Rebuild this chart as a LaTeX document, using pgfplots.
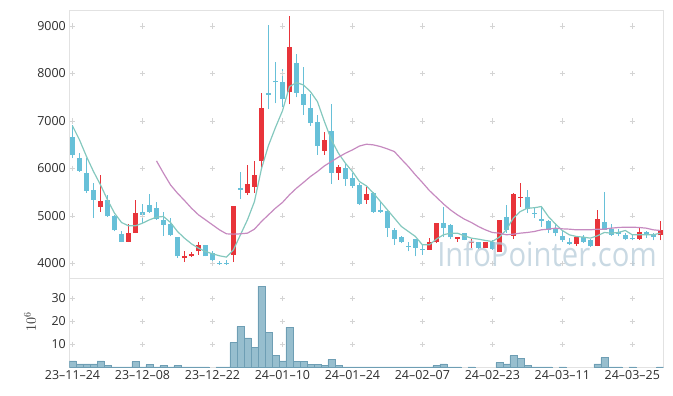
\documentclass[border=0pt]{standalone}
\usepackage{pgfplots}
\pgfplotsset{compat=1.18}
\usepackage{pgfplotstable}
\usepackage{fontspec}
\setmainfont{Open Sans}
\definecolor{cred}{RGB}{232,52,58}
\definecolor{cblue}{RGB}{103,192,216}
\definecolor{maA}{RGB}{132,200,190}
\definecolor{maB}{RGB}{198,138,192}
\definecolor{volfill}{RGB}{151,190,206}
\definecolor{voledge}{RGB}{110,158,180}
\definecolor{framec}{RGB}{226,226,226}
\definecolor{gridc}{RGB}{212,212,212}
\definecolor{tickc}{RGB}{45,45,45}
\definecolor{wm}{RGB}{180,202,216}

\pgfplotstableread{
i o h l c
4 5196 5863 5091 5316
8 4459 4831 4445 4635
9 4635 5337 4635 5070
16 4101 4249 4024 4144
17 4158 4235 4130 4200
18 4249 4438 4179 4389
23 4179 5210 4024 5210
25 5491 6073 5442 5674
26 5617 6165 5491 5863
27 6165 7582 6003 7281
31 7617 9211 7351 8558
36 6375 6761 6284 6600
38 5898 6073 5758 6038
42 5337 5617 5252 5463
51 4284 4530 4284 4445
52 4438 4845 4424 4845
55 4509 4551 4459 4551
57 4424 4509 4319 4459
59 4319 4445 4319 4445
61 4235 4916 4235 4916
63 4579 5491 4509 5463
64 5372 5702 5196 5407
72 4410 4551 4368 4551
75 4368 5126 4354 4930
81 4509 4761 4495 4656
84 4586 4895 4481 4705
}\upT

\pgfplotstableread{
i o h l c
0 6670 6916 6214 6284
1 6214 6319 5933 5954
2 5898 6214 5491 5533
3 5547 5688 4951 5337
5 5337 5442 4980 4986
6 5000 5021 4670 4691
7 4621 4670 4445 4459
10 5091 5253 4845 5021
11 5231 5456 5056 5091
12 5161 5281 4916 4930
13 4916 5077 4579 4810
14 4831 4951 4565 4586
15 4544 4544 4108 4144
19 4389 4389 4144 4144
20 4214 4249 4038 4059
21 4003 4038 3968 3982
22 4003 4073 3968 3990
24 5582 5933 5351 5547
28 7582 9021 7246 7547
29 7842 8249 7372 7814
30 7821 8088 7302 7463
32 8228 8410 7498 7596
33 7568 8144 7126 7337
34 7281 7561 6895 6965
35 6986 7126 6284 6481
37 6789 7351 5667 5898
39 6010 6109 5631 5772
40 5793 5912 5582 5638
41 5652 5688 5231 5245
43 5477 5512 5070 5091
44 5112 5281 5056 5091
45 5105 5126 4551 4754
46 4691 4740 4389 4509
47 4551 4565 4424 4438
48 4368 4445 4249 4340
49 4509 4509 4144 4319
50 4300 4389 4179 4280
53 4845 5196 4551 4740
54 4803 4824 4509 4544
56 4635 4635 4481 4495
58 4445 4445 4298 4319
60 4445 4481 4284 4298
62 4972 5231 4635 4691
65 5393 5547 5056 5140
66 5070 5196 4951 5042
67 4930 5196 4775 4895
68 4895 4916 4635 4705
69 4740 4845 4565 4635
70 4579 4691 4459 4481
71 4445 4530 4389 4403
73 4551 4600 4424 4445
74 4495 4509 4340 4354
76 4873 5498 4691 4705
77 4719 4824 4579 4600
78 4656 4719 4565 4614
79 4600 4635 4481 4509
80 4530 4600 4481 4509
82 4656 4670 4530 4586
83 4614 4635 4481 4551
}\downT

\pgfplotstableread{
i v
0 6895
1 6600
2 6249
3 5933
4 5652
5 5337
6 5056
7 4860
8 4789
9 4789
10 4845
11 4916
12 4972
13 4986
14 4860
15 4670
16 4530
17 4410
18 4319
19 4249
20 4200
21 4158
22 4130
23 4284
24 4600
25 4916
26 5300
27 5990
28 6480
29 6860
30 7210
31 7723
32 7807
33 7758
34 7617
35 7407
36 6986
37 6600
38 6319
39 6109
40 5933
41 5722
42 5631
43 5477
44 5302
45 5126
46 4951
47 4775
48 4670
49 4565
50 4389
51 4389
52 4509
53 4600
54 4635
55 4635
56 4579
57 4530
58 4509
59 4481
60 4459
61 4551
62 4705
63 4951
64 5091
65 5161
66 5170
67 5196
68 4986
69 4831
70 4691
71 4600
72 4565
73 4551
74 4530
75 4579
76 4649
77 4635
78 4649
79 4691
80 4600
81 4600
82 4600
83 4600
84 4635
}\maAT

\pgfplotstableread{
i v
12 6158
13 5898
14 5652
15 5477
16 5323
17 5161
18 5021
19 4916
20 4810
21 4705
22 4621
23 4614
24 4621
25 4635
26 4719
27 4880
28 5021
29 5161
30 5281
31 5442
32 5582
33 5702
34 5828
35 5933
36 6052
37 6144
38 6235
39 6319
40 6389
41 6470
42 6509
43 6495
44 6460
45 6410
46 6354
47 6193
48 6038
49 5863
50 5702
51 5533
52 5393
53 5252
54 5126
55 5021
56 4930
57 4860
58 4775
59 4705
60 4649
61 4635
62 4600
63 4614
64 4635
65 4649
66 4670
67 4705
68 4719
69 4740
70 4726
71 4719
72 4705
73 4705
74 4705
75 4719
76 4719
77 4740
78 4754
79 4761
80 4761
81 4754
82 4740
83 4705
84 4691
}\maBT

\pgfplotstableread{
i v
0 2.8
1 1.5
2 1.5
3 1.5
4 2.8
5 0.7
6 0.2
7 0.2
8 0.2
9 2.4
10 0.2
11 1.1
12 0.2
13 0.7
14 0.2
15 0.7
16 0.2
17 0.2
18 0.2
19 0.2
21 0.2
22 0.2
23 10.7
24 17.6
25 12.8
26 8.5
27 35.2
28 15.1
29 5.0
30 2.8
31 17.3
32 2.4
33 2.4
34 1.1
35 1.1
36 0.7
37 3.3
38 0.7
39 0.2
40 0.2
41 0.2
42 0.2
43 0.2
44 0.2
45 0.2
46 0.2
47 0.2
48 0.2
49 0.2
50 0.2
51 0.2
52 0.7
53 1.5
54 0.2
55 0.2
57 0.2
61 2.0
62 1.5
63 5.0
64 3.7
65 0.7
66 0.2
67 0.2
68 0.2
70 0.2
75 1.5
76 4.2
77 0.2
78 0.2
80 0.2
84 0.2
}\volT

\pgfplotsset{
  base/.style={
    anchor=south west, scale only axis, width=594bp,
    xmin=-0.46, xmax=84.43,
    xtick={0,10,...,80},
    axis line style={framec, line width=0.8bp},
    major tick length=0,
    tick label style={font=\fontsize{12.5}{15}\selectfont, text=tickc},
    /pgf/number format/assume math mode=true,
    /pgf/number format/1000 sep={},
    clip=true,
  },
  candlewick/.style={draw=none, mark=none, forget plot,
    error bars/.cd, y dir=plus, y explicit, error mark=none,
    error bar style={draw=#1, line width=1bp}},
  candlebody/.style={draw=none, mark=none, forget plot,
    error bars/.cd, y dir=plus, y explicit, error mark=none,
    error bar style={draw=#1, line width=5.3bp}},
}

\begin{document}
\begin{tikzpicture}
\useasboundingbox (0,0) rectangle (673bp,396bp);
\begin{axis}[base,
  at={(69.3bp,118bp)}, height=268bp,
  ymin=3690, ymax=9337,
  ytick={4000,5000,...,9000},
  xticklabels={},
]
\pgfplotsinvokeforeach{0,10,...,80}{
  \addplot[only marks, mark=+, mark size=2.6bp, gridc, mark options={line width=0.6bp}, forget plot]
    coordinates {(#1,4000) (#1,5000) (#1,6000) (#1,7000) (#1,8000) (#1,9000)};
}
\addplot[candlewick=cblue] table[x=i, y=l, y error plus expr={\thisrow{h}-\thisrow{l}}] {\downT};
\addplot[candlebody=cblue] table[x=i, y=c, y error plus expr={max(\thisrow{o}-\thisrow{c},25)}] {\downT};
\addplot[candlewick=cred] table[x=i, y=l, y error plus expr={\thisrow{h}-\thisrow{l}}] {\upT};
\addplot[candlebody=cred] table[x=i, y=o, y error plus expr={max(\thisrow{c}-\thisrow{o},25)}] {\upT};
\addplot[maA, line width=1.2bp, mark=none] table[x=i, y=v] {\maAT};
\addplot[maB, line width=1.2bp, mark=none] table[x=i, y=v] {\maBT};
\end{axis}
\begin{axis}[base,
  at={(69.3bp,28.7bp)}, height=89.3bp,
  ymin=0, ymax=38.75,
  ytick={10,20,30},
  xticklabels={23–11–24, 23–12–08, 23–12–22, 24–01–10, 24–01–24, 24–02–07, 24–02–23, 24–03–11, 24–03–25},
  ylabel={$10^6$},
  ylabel style={at={(axis description cs:-0.066,0.51)}, anchor=center, font=\fontsize{14.5}{16}\selectfont, text=tickc},
]
\pgfplotsinvokeforeach{0,10,...,80}{
  \addplot[only marks, mark=+, mark size=2.6bp, gridc, mark options={line width=0.6bp}, forget plot]
    coordinates {(#1,10) (#1,20) (#1,30)};
}
\addplot[ybar, bar width=7bp, fill=volfill, draw=voledge, line width=0.6bp] table[x=i, y=v] {\volT};
\end{axis}
\node[anchor=base, text=wm, opacity=0.72, xscale=0.873, font=\fontsize{33.6}{40}\selectfont, inner sep=0pt] at (547bp,129bp) {InfoPointer.com};
\end{tikzpicture}
\end{document}
